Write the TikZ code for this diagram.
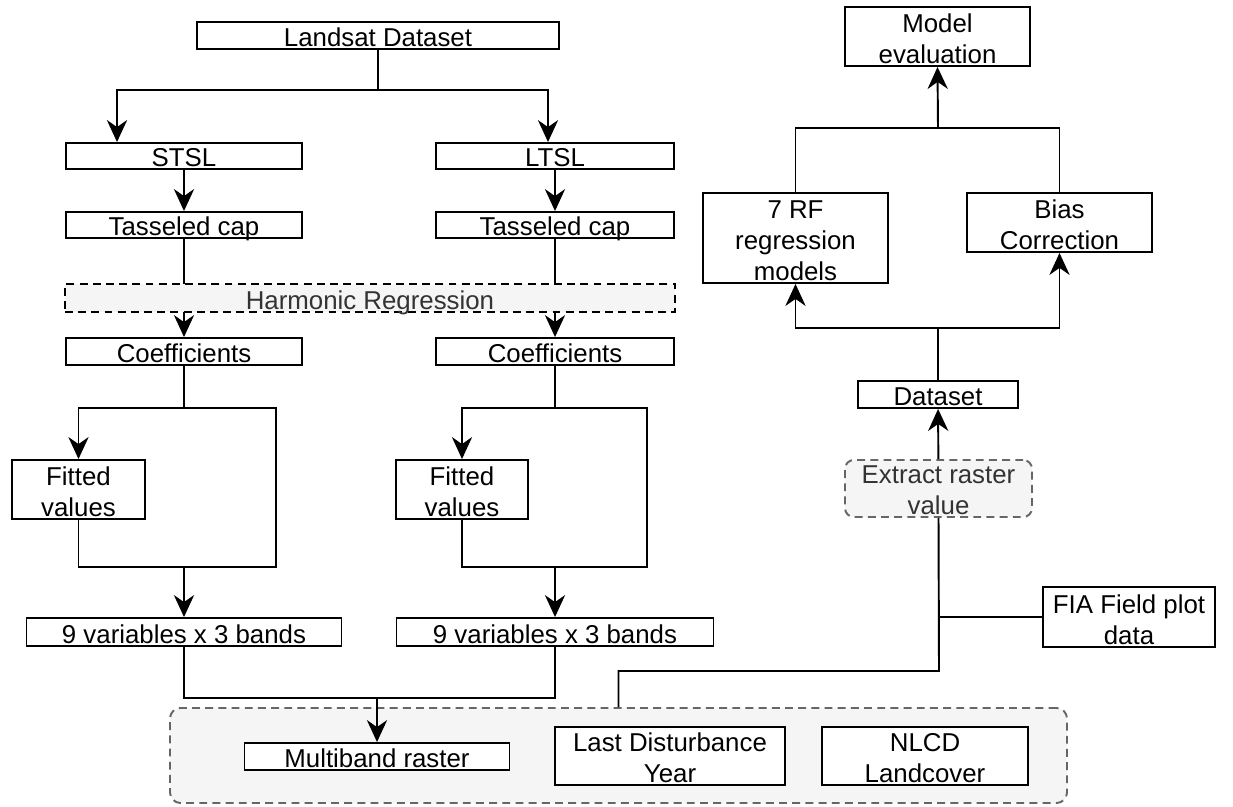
\documentclass[tikz,border=0pt]{standalone}
\usepackage{fontspec}
\setmainfont{Liberation Sans}
\usepackage{tikz}
\usetikzlibrary{arrows.meta,backgrounds}
\definecolor{fillgray}{HTML}{F5F5F5}
\definecolor{dashgray}{HTML}{666666}
\definecolor{txtgray}{HTML}{333333}
\newcommand{\lblfont}{\fontsize{14.7pt}{17.6pt}\selectfont}
\newcommand{\ml}[1]{\begin{tabular}[b]{@{}c@{}}#1\end{tabular}}
\tikzstyle{block} = [rectangle,draw,line width=1.1pt,fill=white,inner sep=0pt,text depth=0pt,font=\lblfont]
\tikzstyle{dashblock} = [block,fill=fillgray,text=txtgray,dash pattern=on 4.5pt off 3pt]
\tikzstyle{panel} = [dashblock,draw=dashgray,rounded corners=6pt]
\tikzset{sz/.style 2 args={minimum width=#1*0.02cm,minimum height=#2*0.02cm,text height=#2*0.02cm-2.8pt}}

\begin{document}
\begin{tikzpicture}[x=0.02cm,y=-0.02cm,line width=1.1pt,
    >={Stealth[length=12.5pt,width=11.5pt,inset=4pt]}]
    \useasboundingbox (0,0) rectangle (1233,807);
    % We start by placing the blocks
    \node [block, sz={362}{27}] (land) at (378,35.5) {Landsat Dataset};
    \node [block, sz={236}{26}] (stsl) at (184,156) {STSL};
    \node [block, sz={238}{26}] (ltsl) at (555,156) {LTSL};
    \node [block, sz={236}{26}] (tasL) at (184,225) {Tasseled cap};
    \node [block, sz={238}{26}] (tasR) at (555,225) {Tasseled cap};
    \node [block, sz={236}{27}] (coefL) at (184,351.5) {Coefficients};
    \node [block, sz={238}{27}] (coefR) at (555,351.5) {Coefficients};
    \node [block, sz={133}{59}] (fitL) at (78.5,489.5) {\ml{Fitted\\values}};
    \node [block, sz={132}{59}] (fitR) at (462,489.5) {\ml{Fitted\\values}};
    \node [block, sz={315}{28}] (varL) at (184,632) {9 variables x 3 bands};
    \node [block, sz={317}{28}] (varR) at (555,632) {9 variables x 3 bands};
    % the inputs sit in one dashed panel
    \node [panel, sz={897}{95}] (inputs) at (618.5,755.5) {};
    \node [block, sz={265}{27}] (multi) at (377,756.5) {Multiband raster};
    \node [block, sz={230}{58}] (dist) at (670,756) {\ml{Last Disturbance\\Year}};
    \node [block, sz={206}{58}] (nlcd) at (925,756) {\ml{NLCD\\Landcover}};
    % right hand side
    \node [block, sz={172}{60}] (fia) at (1129,617) {\ml{FIA Field plot\\data}};
    \node [panel, rounded corners=5pt, sz={187}{57}] (extr) at (938.5,488.5) {\ml{Extract raster\\value}};
    \node [block, sz={160}{27}] (data) at (938,394.5) {Dataset};
    \node [block, sz={185}{90}] (rf) at (795.5,238) {\ml{7 RF\\regression\\models}};
    \node [block, sz={185}{59}] (bias) at (1059.5,222.5) {\ml{Bias\\Correction}};
    \node [block, sz={185}{59}] (eval) at (937.5,36.5) {\ml{Model\\evaluation}};

    % junctions of the orthogonal connectors
    \coordinate (jLand) at (378,90);
    \coordinate (jCL) at (184,408);
    \coordinate (jCR) at (555,408);
    \coordinate (cornL) at (276,567);
    \coordinate (cornR) at (647,567);
    \coordinate (jFL) at (184,567);
    \coordinate (jFR) at (555,567);
    \coordinate (jV) at (377,698);
    \coordinate (jX) at (939,671);
    \coordinate (jM) at (938,328);
    \coordinate (jT) at (938,128);

    % Once the nodes are placed, connecting them is easy.
    \draw (land.south) -- (jLand);
    \draw [->] (jLand) -| ([xshift=-1.34cm]stsl.north);
    \draw [->] (jLand) -| ([xshift=-0.14cm]ltsl.north);
    \draw [->] (stsl) -- (tasL);
    \draw [->] (ltsl) -- (tasR);
    \draw [->] (tasL) -- (coefL);
    \draw [->] (tasR) -- (coefR);
    \draw (coefL) -- (jCL);
    \draw [->] (jCL) -| (fitL.north);
    \draw (jCL) -| (cornL) -- (jFL);
    \draw (fitL.south) |- (jFL);
    \draw [->] (jFL) -- (varL.north);
    \draw (coefR) -- (jCR);
    \draw [->] (jCR) -| (fitR.north);
    \draw (jCR) -| (cornR) -- (jFR);
    \draw (fitR.south) |- (jFR);
    \draw [->] (jFR) -- (varR.north);
    \draw (varL.south) |- (jV) -| (varR.south);
    \draw [->] (jV) -- (multi.north);
    \draw (inputs.north) |- (jX) -- (extr.south);
    \draw (fia.west) -- (fia.west -| jX);
    \draw [->] (extr) -- (data);
    \draw (data.north) -- (jM);
    \draw [->] (jM) -| (rf.south);
    \draw [->] (jM) -| (bias.south);
    \draw (rf.north) |- (jT);
    \draw (bias.north) |- (jT);
    \draw [->] (jT) -- (eval.south);

    % harmonic regression goes over the two arrows
    \node [dashblock, sz={610}{28}] (harm) at (370,298) {Harmonic Regression};
\end{tikzpicture}
\end{document}
